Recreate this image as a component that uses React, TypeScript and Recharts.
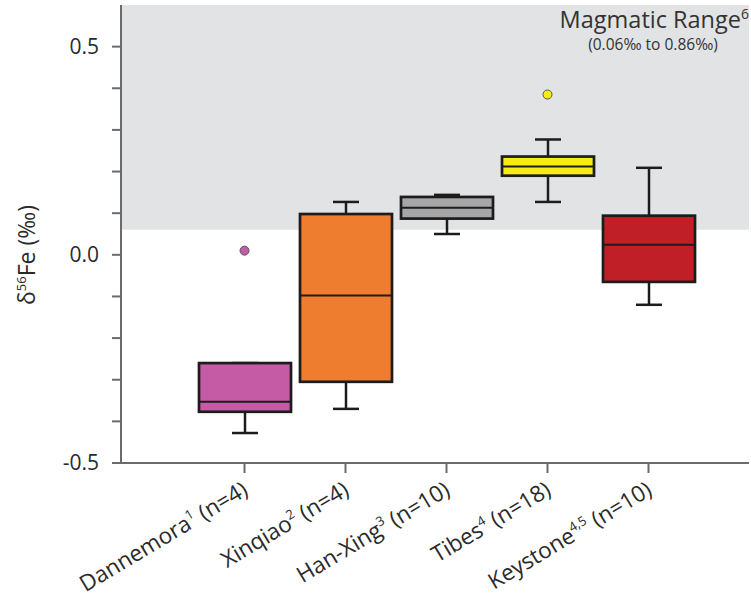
import { ComposedChart, Bar, Scatter, XAxis, YAxis, ReferenceArea } from 'recharts';

const categories = ['Dannemora', 'Xinqiao', 'Han-Xing', 'Tibes', 'Keystone'];
const refs = ['1', '2', '3', '4', '4,5'];
const counts = [4, 4, 10, 18, 10];

const mins = [-0.428, -0.37, 0.05, 0.127, -0.12];
const q1s = [-0.377, -0.305, 0.087, 0.19, -0.065];
const medians = [-0.353, -0.098, 0.113, 0.212, 0.024];
const q3s = [-0.26, 0.098, 0.139, 0.236, 0.094];
const maxs = [-0.26, 0.127, 0.144, 0.277, 0.209];
const outliers = [0.01, null, null, 0.385, null];

const yTicks = [-0.5, -0.4, -0.3, -0.2, -0.1, 0, 0.1, 0.2, 0.3, 0.4, 0.5];
const yLabels = { '-0.5': '-0.5', '0': '0.0', '0.5': '0.5' };

const magmaticLow = 0.06;
const magmaticHigh = 0.86;

const boxColors = ['#c55ba5', '#ee7d30', '#a6a6a6', '#f6ec14', '#c11f27'];
const ink = '#1c1c1c';
const font = '"Open Sans", sans-serif';

const data = categories.map((name, i) => ({
  name,
  whisker: [mins[i], maxs[i]],
  box: [q1s[i], q3s[i]],
  median: [medians[i], medians[i]],
  outlier: outliers[i],
}));

const WhiskerShape = (props: any) => {
  const { x, y, width, height } = props;
  const top = Math.min(y, y + height);
  const bottom = Math.max(y, y + height);
  const cx = x + width / 2;
  const cap = 13;
  return (
    <g stroke={ink} strokeWidth={2.5}>
      <line x1={cx} x2={cx} y1={top} y2={bottom} />
      <line x1={cx - cap} x2={cx + cap} y1={top} y2={top} />
      <line x1={cx - cap} x2={cx + cap} y1={bottom} y2={bottom} />
    </g>
  );
};

const BoxShape = (props: any) => {
  const { x, y, width, height, index } = props;
  const top = Math.min(y, y + height);
  return (
    <rect x={x} y={top} width={width} height={Math.abs(height)} fill={boxColors[index]} stroke={ink} strokeWidth={2.7} />
  );
};

const MedianShape = (props: any) => {
  const { x, y, width } = props;
  return <line x1={x} x2={x + width} y1={y} y2={y} stroke={ink} strokeWidth={2} />;
};

const OutlierDot = (props: any) => {
  const { cx, cy, payload, index } = props;
  if (payload == null || payload.outlier == null) return <g />;
  return <circle cx={cx} cy={cy} r={4.5} fill={boxColors[index]} stroke="#555" strokeWidth={1} />;
};

const CategoryTick = (props: any) => {
  const { x, y, payload } = props;
  const i = categories.indexOf(payload.value);
  return (
    <g transform={`translate(${x + 5},${y + 19}) rotate(-31)`}>
      <text textAnchor="end" fontFamily={font} fontSize={22.5} fill="#2a2a2a">
        {payload.value}
        <tspan dy={-9} fontSize={13}>{refs[i]}</tspan>
        <tspan dy={9}>{` (n=${counts[i]})`}</tspan>
      </text>
    </g>
  );
};

const YTitle = () => (
  <text transform="translate(35,255) rotate(-90)" textAnchor="middle" fontFamily={font} fontSize={23} fill="#2a2a2a">
    δ<tspan dy={-9} fontSize={13}>56</tspan>
    <tspan dy={9}>Fe (‰)</tspan>
  </text>
);

const MagmaticLabel = (props: any) => {
  const { viewBox } = props;
  const right = viewBox.x + viewBox.width;
  return (
    <g fontFamily={font} fill="#333">
      <text x={right} y={viewBox.y + 23} textAnchor="end" fontSize={23.5}>
        Magmatic Range<tspan dy={-9} fontSize={14}>6</tspan>
      </text>
      <text x={right - 96} y={viewBox.y + 45} textAnchor="middle" fontSize={15.5}>
        ({magmaticLow.toFixed(2)}‰ to {magmaticHigh.toFixed(2)}‰)
      </text>
    </g>
  );
};

export default function App() {
  return (
    <div style={{ position: 'absolute', left: 0, top: 0, background: '#fff' }}>
      <ComposedChart
        width={751}
        height={605}
        data={data}
        barGap={-92}
        margin={{ top: 5, right: 2, bottom: 0, left: 0 }}
      >
        <XAxis xAxisId="full" type="number" hide />
        <ReferenceArea
          xAxisId="full"
          y1={magmaticLow}
          y2={0.6}
          fill="#e2e3e5"
          fillOpacity={1}
          stroke="none"
          label={<MagmaticLabel />}
        />
        <XAxis
          dataKey="name"
          height={142}
          padding={{ left: 73, right: 50 }}
          allowDuplicatedCategory={false}
          interval={0}
          tick={<CategoryTick />}
          tickSize={10}
          axisLine={{ stroke: '#6b6b6b', strokeWidth: 2 }}
          tickLine={{ stroke: '#6b6b6b', strokeWidth: 2 }}
        />
        <YAxis
          width={121}
          type="number"
          domain={[-0.5, 0.6]}
          allowDataOverflow
          ticks={yTicks}
          interval={0}
          tickSize={9}
          tickMargin={13}
          tickFormatter={(v: number) => (yLabels as any)[String(v)] ?? ''}
          tick={{ fontFamily: font, fontSize: 21, fill: '#2a2a2a' }}
          axisLine={{ stroke: '#6b6b6b', strokeWidth: 2 }}
          tickLine={{ stroke: '#6b6b6b', strokeWidth: 2 }}
          label={<YTitle />}
        />
        <Bar dataKey="whisker" barSize={92} shape={<WhiskerShape />} isAnimationActive={false} />
        <Bar dataKey="box" barSize={92} shape={<BoxShape />} isAnimationActive={false} />
        <Bar dataKey="median" barSize={92} shape={<MedianShape />} isAnimationActive={false} />
        <Scatter dataKey="outlier" shape={<OutlierDot />} isAnimationActive={false} />
      </ComposedChart>
    </div>
  );
}
